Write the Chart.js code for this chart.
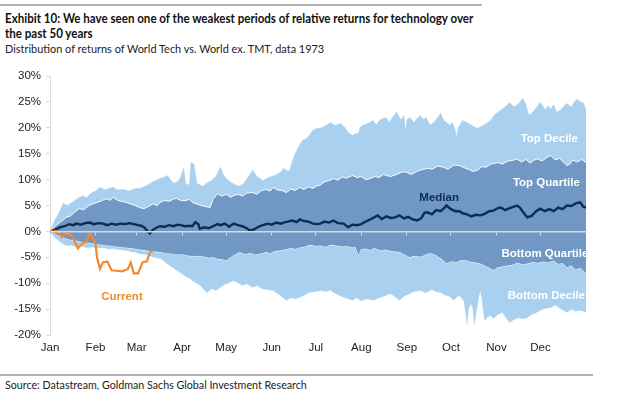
<!DOCTYPE html>
<html>
<head>
<meta charset="utf-8">
<script src="https://cdn.jsdelivr.net/npm/chart.js@4.4.1/dist/chart.umd.min.js"></script>
<style>
  body { margin: 0; background: #fff; width: 642px; height: 394px; overflow: hidden; position: relative; font-family: Lato, sans-serif; }
  .rule { position: absolute; left: 0; height: 0; border-top: 2px solid #b4b4b4; }
  #title { position: absolute; left: 5px; top: 11px; font-size: 12.5px; font-weight: bold; line-height: 15px; color: #111; white-space: nowrap; transform: scaleX(0.925); transform-origin: 0 0; }
  #subtitle { position: absolute; left: 5px; top: 41px; font-size: 12px; color: #222; white-space: nowrap; transform: scaleX(0.91); transform-origin: 0 0; }
  #source { position: absolute; left: 5px; top: 378px; font-size: 10.7px; color: #222; }
  #chartBox { position: absolute; left: 0; top: 60px; width: 642px; height: 300px; }
</style>
</head>
<body>
<div class="rule" style="top:4px;width:482px"></div>
<div id="title">Exhibit 10: We have seen one of the weakest periods of relative returns for technology over<br>the past 50 years</div>
<div id="subtitle">Distribution of returns of World Tech vs. World ex. TMT, data 1973</div>
<div id="chartBox"><canvas id="distChart"></canvas></div>
<div class="rule" style="top:374px;width:593px"></div>
<div id="source">Source: Datastream, Goldman Sachs Global Investment Research</div>

<script>
// day-of-year positions (0 = 1 Jan) and returns in %
const monthDays = [0, 31, 59, 90, 120, 151, 181, 212, 243, 273, 304, 334];
const monthLabels = ["Jan", "Feb", "Mar", "Apr", "May", "Jun", "Jul", "Aug", "Sep", "Oct", "Nov", "Dec"];
const yTicks = [-20, -15, -10, -5, 0, 5, 10, 15, 20, 25, 30];

const topDecileDays = [
  0, 3, 6, 9, 12, 15, 18, 22, 25, 28,
  31, 34, 37, 40, 43, 46, 50, 54, 58, 61,
  64, 67, 70, 73, 75, 78, 80, 82, 84, 87,
  89, 91, 92, 93, 95, 96, 98, 100, 102, 104,
  107, 110, 113, 116, 118, 120, 123, 126, 129, 132,
  135, 138, 141, 145, 148, 151, 154, 157, 159, 161,
  163, 165, 167, 169, 172, 175, 177, 179, 182, 184,
  187, 191, 194, 198, 201, 203, 206, 208, 210, 211,
  213, 216, 220, 222, 225, 229, 231, 234, 236, 239,
  241, 242, 243, 245, 248, 250, 252, 254, 256, 259,
  262, 264, 266, 268, 270, 272, 274, 276, 277, 278,
  281, 284, 287, 291, 294, 297, 300, 303, 307, 310,
  313, 316, 319, 322, 324, 326, 328, 331, 334, 337,
  339, 341, 343, 345, 348, 350, 352, 355, 357, 359,
  361, 363, 365
];
const topDecile = [
  0, 2, 3.5, 5.4, 5.0, 5.6, 6.2, 6.9, 6.5, 7.4,
  7.8, 8.5, 8.0, 8.3, 8.5, 8.0, 8.1, 7.8, 8.3, 8.3,
  8.6, 9.0, 9.6, 9.9, 10.2, 10.5, 10.8, 10.0, 9.3, 9.6,
  10.5, 12.2, 10.0, 8.9, 9.2, 13.3, 13.0, 9.3, 9.0, 8.7,
  9.4, 9.8, 10.6, 12.4, 11.0, 10.2, 9.5, 9.0, 8.7, 9.3,
  10.5, 11.8, 10.6, 9.8, 10.3, 10.6, 10.9, 11.4, 12.2, 11.8,
  11.6, 13.5, 15, 16.2, 17.6, 18.0, 18.7, 19.5, 19.9, 19.9,
  20.3, 21, 20.5, 20.8, 20.0, 19.1, 18.5, 18.9, 18.9, 20.0,
  20.5, 20.8, 21.4, 20.6, 21.6, 22, 21.0, 22.3, 23, 21.5,
  22.4, 19.1, 21.5, 22, 21.0, 21.8, 22.4, 21.6, 22.0, 20.5,
  21.2, 22.0, 22.8, 21.5, 21.0, 20.5, 21.0, 19.5, 18.1, 20.0,
  21.4, 21.0, 20.5, 19.9, 20.3, 20.8, 21.4, 22.6, 23.4, 24.0,
  24.9, 24.0, 24.6, 25.7, 24.5, 22.4, 22.8, 23.8, 24.9, 23.5,
  24.2, 23.7, 24.4, 23.0, 23.5, 24.2, 24.7, 24.0, 25.0, 25.5,
  25.0, 24.9, 23.4
];

const topQuartileDays = [
  0, 4, 8, 11, 14, 17, 20, 23, 26, 29,
  32, 35, 38, 41, 43, 46, 49, 52, 55, 58,
  61, 64, 67, 70, 73, 75, 78, 81, 84, 86,
  89, 92, 95, 97, 100, 103, 106, 109, 111, 114,
  117, 120, 123, 125, 128, 131, 134, 138, 141, 144,
  147, 150, 152, 155, 158, 161, 164, 167, 170, 173,
  176, 179, 182, 184, 187, 190, 193, 196, 199, 202,
  206, 209, 212, 215, 218, 221, 224, 227, 229, 232,
  236, 240, 243, 246, 250, 253, 257, 260, 264, 268,
  271, 275, 279, 282, 285, 288, 291, 294, 297, 300,
  302, 305, 308, 312, 315, 318, 321, 324, 327, 329,
  332, 335, 338, 341, 344, 347, 350, 352, 354, 356,
  359, 362, 365
];
const topQuartile = [
  0, 1.2, 2.0, 2.7, 3.0, 3.8, 4.4, 4.2, 4.9, 5.3,
  5.6, 5.9, 6.3, 6.0, 6.6, 6.0, 5.8, 5.6, 5.3, 5.0,
  4.6, 4.4, 4.8, 5.3, 5.0, 5.6, 6.0, 5.8, 6.2, 6.4,
  6.0, 5.9, 6.2, 5.6, 5.3, 5.0, 4.8, 4.6, 6.2, 7.3,
  6.8, 7.2, 6.6, 6.9, 7.2, 6.8, 7.4, 7.5, 7.2, 7.9,
  8.1, 7.8, 8.5, 8.0, 7.9, 7.5, 8.2, 7.9, 8.5, 8.1,
  8.6, 8.3, 8.8, 8.9, 9.6, 9.8, 10.2, 9.9, 10.5, 10.3,
  10.8, 10.4, 10.6, 10.0, 10.2, 10.6, 10.4, 11.0, 10.8, 10.6,
  11.0, 11.5, 11.4, 11.0, 11.6, 11.9, 12.2, 12.0, 12.6, 12.4,
  12.0, 12.8, 12.7, 12.3, 12.0, 11.6, 11.8, 12.5, 12.4, 13.0,
  13.1, 13.3, 13.0, 13.6, 13.7, 14.0, 13.4, 13.9, 13.2, 13.7,
  14.0, 13.6, 14.2, 14.7, 13.8, 14.1, 13.3, 12.7, 13.0, 13.8,
  13.4, 13.9, 13.3
];

const medianDays = [
  0, 4, 7, 10, 13, 16, 18, 21, 24, 27,
  30, 33, 36, 39, 42, 45, 48, 51, 54, 57,
  60, 62, 64, 66, 68, 70, 73, 75, 78, 81,
  84, 87, 89, 92, 95, 97, 99, 101, 102, 105,
  108, 111, 114, 116, 119, 122, 125, 128, 131, 134,
  136, 139, 142, 145, 148, 151, 154, 157, 159, 162,
  165, 168, 170, 173, 176, 179, 182, 184, 187, 190,
  193, 196, 200, 203, 206, 209, 212, 215, 218, 220,
  223, 226, 229, 232, 235, 238, 241, 244, 247, 250,
  253, 255, 257, 260, 263, 266, 268, 270, 273, 276,
  279, 281, 284, 287, 290, 293, 296, 299, 302, 305,
  307, 310, 313, 316, 318, 320, 322, 325, 328, 331,
  334, 337, 340, 343, 346, 349, 352, 355, 358, 361,
  363, 365
];
const median = [
  0, 0.4, 0.8, 1.0, 1.4, 1.2, 1.5, 1.3, 1.6, 1.7,
  1.4, 1.6, 1.5, 1.2, 1.5, 1.3, 1.5, 1.4, 1.6, 1.4,
  1.2, 1.1, 0.8, 0.2, -0.4, 0.3, 0.8, 1.0, 0.9, 1.2,
  1.0, 1.3, 1.2, 1.0, 1.1, 1.0, 1.8, 1.4, 0.5, 0.8,
  0.6, 1.0, 1.4, 1.2, 1.5, 0.9, 1.5, 1.2, 1.0, 0.6,
  0.2, 0.4, 0.9, 1.2, 1.5, 1.3, 1.7, 1.5, 1.7, 1.9,
  2.1, 1.8, 2.3, 2.0, 1.9, 1.5, 1.4, 1.5, 1.9, 1.7,
  2.1, 1.6, 1.5, 0.8, 1.3, 1.2, 1.4, 1.9, 2.3, 2.6,
  3.1, 2.4, 2.9, 2.6, 2.7, 3.1, 2.5, 2.8, 2.3, 2.1,
  2.6, 3.6, 3.7, 3.3, 4.1, 3.9, 4.4, 5.0, 4.3, 3.9,
  3.9, 3.5, 3.3, 2.9, 3.2, 3.1, 3.4, 3.9, 4.0, 4.5,
  4.6, 4.1, 4.5, 4.8, 5.0, 4.6, 3.8, 2.7, 3.0, 3.9,
  4.4, 3.9, 4.3, 3.9, 4.6, 4.3, 5.0, 4.9, 5.4, 5.6,
  4.8, 4.6
];

const bottomQuartileDays = [
  0, 4, 8, 11, 14, 18, 21, 25, 28, 32,
  35, 39, 43, 47, 51, 54, 57, 61, 64, 68,
  72, 75, 79, 83, 87, 90, 93, 97, 101, 105,
  108, 111, 114, 117, 120, 122, 125, 129, 133, 136,
  140, 143, 147, 150, 153, 157, 160, 164, 167, 170,
  174, 177, 181, 184, 188, 191, 195, 199, 202, 206,
  208, 210, 212, 215, 218, 221, 225, 228, 232, 235,
  238, 241, 245, 248, 252, 255, 258, 261, 264, 267,
  270, 273, 277, 280, 284, 287, 290, 293, 296, 299,
  302, 305, 308, 311, 315, 318, 322, 325, 329, 332,
  336, 339, 343, 346, 349, 352, 355, 358, 361, 365
];
const bottomQuartile = [
  0, -0.6, -1.1, -1.4, -1.6, -1.8, -2.0, -2.1, -2.3, -2.5,
  -2.6, -2.7, -2.8, -3.0, -3.1, -3.2, -3.3, -3.5, -3.6, -3.8,
  -3.9, -4.0, -4.2, -4.3, -4.5, -4.4, -4.6, -4.8, -4.7, -4.9,
  -5.1, -5.0, -5.3, -5.4, -5.6, -5.2, -4.6, -4.0, -4.4, -4.1,
  -4.5, -4.3, -4.0, -4.2, -3.8, -3.7, -3.5, -3.2, -3.4, -3.1,
  -2.9, -2.6, -2.8, -2.7, -3.0, -2.6, -2.7, -2.9, -2.8, -3.1,
  -3.0, -4.6, -3.4, -3.3, -3.6, -3.2, -3.7, -3.5, -3.8, -3.9,
  -4.0, -4.4, -5.0, -4.7, -4.9, -4.6, -4.2, -4.3, -4.8, -5.4,
  -6.2, -5.8, -5.9, -5.5, -5.6, -5.9, -6.0, -6.2, -6.6, -7.0,
  -7.5, -6.9, -6.8, -6.6, -6.5, -6.0, -6.4, -6.2, -5.9, -6.1,
  -5.8, -6.0, -5.6, -6.3, -6.1, -6.9, -6.6, -7.4, -7.0, -8.1
];

const bottomDecileDays = [
  0, 2, 5, 8, 11, 14, 18, 21, 25, 29,
  33, 37, 40, 43, 47, 51, 55, 58, 61, 64,
  68, 71, 75, 78, 81, 84, 86, 89, 92, 95,
  97, 100, 103, 105, 107, 110, 113, 116, 119, 122,
  125, 128, 131, 134, 138, 141, 144, 148, 152, 155,
  158, 161, 164, 167, 170, 174, 177, 181, 184, 188,
  191, 193, 196, 199, 203, 206, 209, 212, 216, 220,
  224, 228, 232, 235, 238, 241, 245, 248, 252, 256,
  260, 263, 266, 269, 272, 275, 277, 279, 282, 284,
  285, 287, 288, 289, 290, 292, 293, 294, 296, 298,
  300, 302, 305, 308, 310, 313, 316, 319, 322, 325,
  328, 331, 334, 337, 341, 344, 347, 350, 352, 355,
  358, 361, 365
];
const bottomDecile = [
  0, -0.8, -1.6, -2.2, -2.7, -2.6, -3.0, -2.8, -3.1, -3.0,
  -3.2, -3.1, -3.4, -3.3, -3.5, -3.6, -3.9, -4.0, -4.3, -4.4,
  -4.7, -5.0, -5.2, -5.8, -6.5, -7.0, -7.5, -8.0, -8.6, -9.0,
  -9.5, -10.0, -10.6, -11.3, -11.8, -11.0, -11.4, -10.8, -10.2, -9.9,
  -9.5, -9.9, -10.4, -10.1, -10.8, -10.4, -11.0, -11.2, -11.4, -12.0,
  -12.6, -13.3, -12.8, -13.0, -12.7, -12.2, -11.7, -11.6, -11.4, -11.6,
  -11.3, -11.8, -12.2, -12.6, -13.0, -13.3, -12.8, -13.4, -13.0, -13.3,
  -12.8, -12.4, -12.0, -12.6, -13.3, -12.5, -12.0, -11.6, -11.4, -11.8,
  -11.2, -11.6, -11.8, -12.3, -12.5, -13.3, -12.6, -12.4, -13.5, -17.8,
  -14.8, -13.9, -15.0, -17.8, -16.0, -12.5, -11.4, -12.8, -17.2, -16.5,
  -16.2, -16.8, -16.0, -15.6, -16.5, -17.6, -17.0, -16.6, -16.9, -16.6,
  -16.0, -15.7, -15.2, -14.9, -14.7, -14.2, -14.8, -15.3, -15.6, -15.0,
  -15.4, -15.2, -15.6
];

const currentDays = [0, 5, 8, 11, 15, 19, 22, 25, 27, 31, 32, 34, 36, 39, 42, 49, 53, 55, 57, 60, 63, 66, 68, 70];
const current = [0, 0, -1.1, -0.3, -0.8, -3.3, -2.3, -2, -0.2, -2.3, -5, -7.2, -6, -5.8, -7.5, -7.7, -7.3, -6, -8.1, -8.1, -6, -5.8, -4.1, -3.7];

// in-chart labels
const bandLabels = ["Top Decile", "Top Quartile", "Median", "Bottom Quartile", "Bottom Decile", "Current"];
const bandLabelDays = [340, 338, 265, 337, 338, 49];
const bandLabelValues = [17.8, 9.3, 6.5, -4.4, -12.4, -12.7];
const bandLabelColors = ["#ffffff", "#ffffff", "#0b2d52", "#ffffff", "#ffffff", "#f28a2e"];

const LIGHT_BLUE = "#a9d0ee";
const MID_BLUE = "#7197c5";

function toPoints(days, values) {
  return days.map((d, i) => ({ x: d, y: values[i] }));
}

const bandLabelPlugin = {
  id: "bandLabels",
  afterDatasetsDraw(chart) {
    const ctx = chart.ctx;
    const xs = chart.scales.x;
    const ys = chart.scales.y;
    ctx.save();
    ctx.font = "bold 11.5px 'Liberation Sans', Arial, sans-serif";
    ctx.textAlign = "center";
    ctx.textBaseline = "middle";
    bandLabels.forEach((txt, i) => {
      ctx.fillStyle = bandLabelColors[i];
      ctx.fillText(txt, xs.getPixelForValue(bandLabelDays[i]), ys.getPixelForValue(bandLabelValues[i]));
    });
    ctx.restore();
  }
};

const lineBase = { pointRadius: 0, pointHoverRadius: 0, tension: 0 };

new Chart(document.getElementById("distChart"), {
  type: "line",
  data: {
    datasets: [
      { ...lineBase, label: "Current", data: toPoints(currentDays, current), borderColor: "#f28a2e", borderWidth: 2.2, fill: false },
      { ...lineBase, label: "Median", data: toPoints(medianDays, median), borderColor: "#0b2d52", borderWidth: 2.4, fill: false },
      { ...lineBase, label: "Top Quartile", data: toPoints(topQuartileDays, topQuartile), borderColor: "#ffffff", borderWidth: 1, backgroundColor: MID_BLUE, fill: "+1" },
      { ...lineBase, label: "Bottom Quartile", data: toPoints(bottomQuartileDays, bottomQuartile), borderColor: "#ffffff", borderWidth: 1, fill: false },
      { ...lineBase, label: "Top Decile", data: toPoints(topDecileDays, topDecile), borderColor: LIGHT_BLUE, borderWidth: 0.5, backgroundColor: LIGHT_BLUE, fill: "+1" },
      { ...lineBase, label: "Bottom Decile", data: toPoints(bottomDecileDays, bottomDecile), borderColor: LIGHT_BLUE, borderWidth: 0.5, fill: false }
    ]
  },
  options: {
    responsive: true,
    maintainAspectRatio: false,
    animation: false,
    layout: { padding: { top: 16, right: 56, left: 0, bottom: 0 } },
    plugins: {
      legend: { display: false },
      tooltip: { enabled: false }
    },
    scales: {
      x: {
        type: "linear",
        min: 0,
        max: 365,
        afterBuildTicks: axis => { axis.ticks = monthDays.map(v => ({ value: v })); },
        afterFit: axis => { axis.height = 25; },
        grid: { display: false, drawTicks: false },
        border: { display: false },
        ticks: {
          padding: 6,
          maxRotation: 0,
          autoSkip: false,
          color: "#222",
          font: { family: "'Liberation Sans', Arial", size: 11.5 },
          callback: function(value) {
            const i = monthDays.indexOf(value);
            return i >= 0 ? monthLabels[i] : "";
          }
        }
      },
      zero: {
        type: "linear",
        axis: "x",
        position: { y: 0 },
        min: 0,
        max: 365,
        afterBuildTicks: axis => { axis.ticks = monthDays.map(v => ({ value: v })); },
        grid: { drawOnChartArea: false, drawTicks: true, tickLength: 3, color: "#d4dbe4", z: 1 },
        border: { display: true, color: "#d4dbe4", width: 1.5, z: 1 },
        ticks: { display: false }
      },
      y: {
        min: -20,
        max: 30,
        afterBuildTicks: axis => { axis.ticks = yTicks.map(v => ({ value: v })); },
        afterFit: axis => { axis.width = 50; },
        grid: { drawOnChartArea: false, drawTicks: true, tickLength: 4, color: "#dcdcdc" },
        border: { display: true, color: "#dcdcdc" },
        ticks: {
          padding: 5,
          color: "#222",
          font: { family: "'Liberation Sans', Arial", size: 11.5 },
          callback: value => value + "%"
        }
      }
    }
  },
  plugins: [bandLabelPlugin]
});
</script>
</body>
</html>
